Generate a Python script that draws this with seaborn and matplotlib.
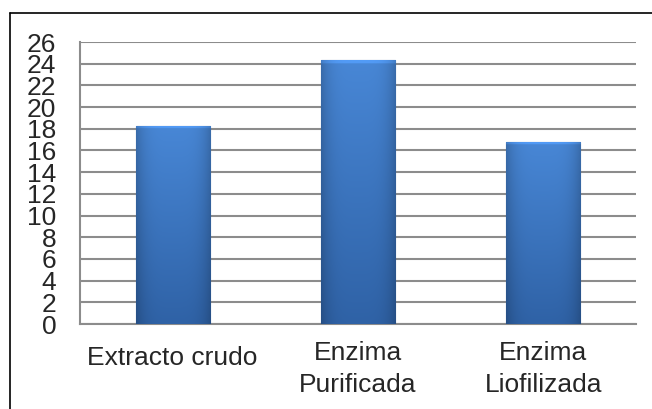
import matplotlib
matplotlib.use("Agg")
import matplotlib.pyplot as plt
import numpy as np
import pandas as pd
import seaborn as sns
from matplotlib.lines import Line2D
from matplotlib.colors import to_rgb
from matplotlib.transforms import ScaledTranslation

categories = ["Extracto crudo", "Enzima\nPurificada", "Enzima\nLiofilizada"]
values = [18.3, 24.3, 16.8]
yticks = list(range(0, 27, 2))

W, H = 652, 409
DPI = 100

sns.set_style("white")
plt.rcParams["font.family"] = ["Liberation Sans", "DejaVu Sans"]

fig = plt.figure(figsize=(W / DPI, H / DPI), dpi=DPI)
ax = fig.add_axes([80 / W, (H - 324) / H, (636 - 80) / W, (324 - 42) / H])

df = pd.DataFrame({"cat": categories, "val": values})
sns.barplot(data=df, x="cat", y="val", color="#3b78c6", width=0.4,
            saturation=1, edgecolor="#2a5590", linewidth=0.8, ax=ax, zorder=3)

# gradient fill on each bar, clipped to the bar shape
top_c = np.array(to_rgb("#4887d6"))
bot_c = np.array(to_rgb("#2f62a6"))
px_per_unit = (324 - 42) / 26
for patch in ax.patches:
    x0, y0 = patch.get_x(), patch.get_y()
    x1, y1 = x0 + patch.get_width(), y0 + patch.get_height()
    n = 400
    t = np.linspace(0, 1, n)[:, None]  # 0 = top, 1 = bottom
    s = np.linspace(-1, 1, 80)[None, :]
    vert = top_c[None, None, :] * (1 - t[..., None]) + bot_c[None, None, :] * t[..., None]
    horiz = 1 - 0.2 * (np.abs(s) ** 4)[..., None]
    img = np.clip(vert * horiz, 0, 1)
    # thin light bevel along the top edge (about 3 px)
    rows = max(1, int(round(3 * n / (patch.get_height() * px_per_unit))))
    img[:rows] = np.clip(img[:rows] * 1.15, 0, 1)
    im = ax.imshow(img, extent=(x0, x1, y0, y1), origin="upper",
                   aspect="auto", zorder=3.5, interpolation="bilinear")
    im.set_clip_path(patch)

ax.set_xlim(-0.5, 2.5)
ax.set_ylim(0, 26)
ax.set_yticks(yticks)
ax.set_yticklabels([str(v) for v in yticks], fontsize=19)
ax.tick_params(axis="y", length=0, pad=17)
ax.tick_params(axis="x", length=0, pad=12, labelsize=19)
for lab in ax.get_xticklabels():
    lab.set_linespacing(1.45)
# single-line label sits a little lower than the two-line ones
first = ax.get_xticklabels()[0]
first.set_transform(first.get_transform() +
                    ScaledTranslation(0, -4 / 72, fig.dpi_scale_trans))
ax.set_xlabel("")
ax.set_ylabel("")

ax.yaxis.grid(True, color="#8c8c8c", linewidth=1.5, zorder=0)
ax.set_axisbelow(True)
for side in ["top", "right"]:
    ax.spines[side].set_visible(False)
for side in ["left", "bottom"]:
    ax.spines[side].set_color("#8c8c8c")
    ax.spines[side].set_linewidth(1.5)

# outer frame (left and top edges of the chart box)
fig.add_artist(Line2D([10 / W, 10 / W], [0, (H - 13) / H], color="black",
                      linewidth=1.2, transform=fig.transFigure))
fig.add_artist(Line2D([10 / W, 1], [(H - 13) / H, (H - 13) / H], color="black",
                      linewidth=1.2, transform=fig.transFigure))

fig.savefig("out.png", dpi=DPI)
